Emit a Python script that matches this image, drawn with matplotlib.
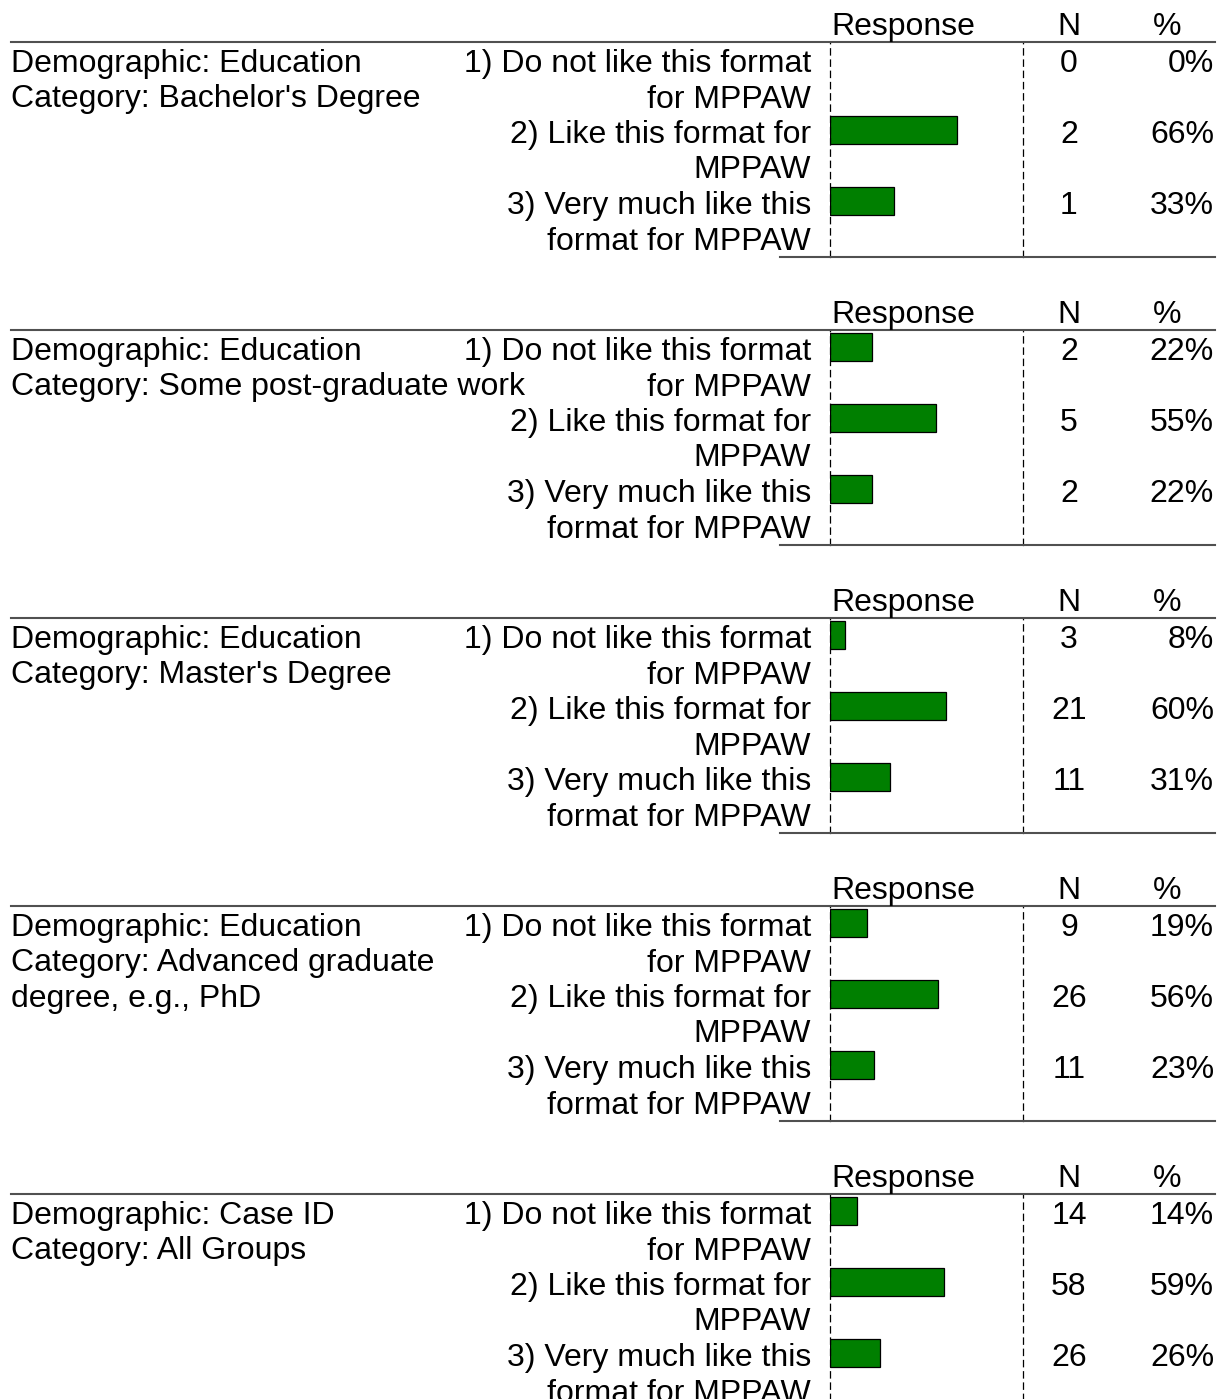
import matplotlib.pyplot as plt
from matplotlib.lines import Line2D

plt.rcParams['font.family'] = ['Liberation Sans', 'DejaVu Sans']

W, H = 1226, 1399

groups = [
    ("Demographic: Education", "Category: Bachelor's Degree"),
    ("Demographic: Education", "Category: Some post-graduate work"),
    ("Demographic: Education", "Category: Master's Degree"),
    ("Demographic: Education", "Category: Advanced graduate", "degree, e.g., PhD"),
    ("Demographic: Case ID", "Category: All Groups"),
]
responses = [
    ("1) Do not like this format", "for MPPAW"),
    ("2) Like this format for", "MPPAW"),
    ("3) Very much like this", "format for MPPAW"),
]
counts = [[0, 2, 1], [2, 5, 2], [3, 21, 11], [9, 26, 11], [14, 58, 26]]
percents = [[0, 66, 33], [22, 55, 22], [8, 60, 31], [19, 56, 23], [14, 59, 26]]

FS = 23
LINE = 35.5      # px between text lines
ROW = 71.0       # px between response rows
PANEL = 288.0    # px between panels
TOP0 = 42.0
BAR_L, BAR_R = 830, 1023
BOX_H = 215.0


def fx(x):
    return x / W


def fy(y):
    return 1 - y / H


fig = plt.figure(figsize=(W / 100, H / 100), dpi=100)

for i, (grp, n, pct) in enumerate(zip(groups, counts, percents)):
    top = TOP0 + PANEL * i

    # column headers
    fig.text(fx(831), fy(top - 7), "Response", fontsize=FS, ha='left', va='baseline')
    fig.text(fx(1069), fy(top - 7), "N", fontsize=FS, ha='center', va='baseline')
    fig.text(fx(1167), fy(top - 7), "%", fontsize=FS, ha='center', va='baseline')

    # rules above and below the block
    fig.add_artist(Line2D([fx(11), fx(1215)], [fy(top), fy(top)],
                          color='#505050', lw=1.5))
    fig.add_artist(Line2D([fx(780), fx(1215)], [fy(top + BOX_H), fy(top + BOX_H)],
                          color='#505050', lw=1.5))

    # group description
    for j, line in enumerate(grp):
        fig.text(fx(11), fy(top + 30 + LINE * j), line, fontsize=FS,
                 ha='left', va='baseline')

    # bar area
    ax = fig.add_axes([fx(BAR_L), fy(top + BOX_H), fx(BAR_R - BAR_L), BOX_H / H])
    y0 = -17.0 / ROW
    ax.set_ylim(y0 + BOX_H / ROW, y0)
    ax.set_xlim(0, 100)
    rows = list(range(len(responses)))
    ax.barh(rows, pct, height=0.4, left=0, color='#007f00',
            edgecolor='black', linewidth=[0 if p == 0 else 0.9 for p in pct])
    ax.set_xticks([])
    ax.set_yticks([])
    for side in ('top', 'bottom'):
        ax.spines[side].set_visible(False)
    for side in ('left', 'right'):
        ax.spines[side].set_linestyle((0, (5, 4)))
        ax.spines[side].set_linewidth(0.9)
    ax.patch.set_alpha(0)

    for k, (resp, cnt, p) in enumerate(zip(responses, n, pct)):
        base = top + 30 + ROW * k
        fig.text(fx(811), fy(base), resp[0], fontsize=FS, ha='right', va='baseline')
        fig.text(fx(811), fy(base + LINE), resp[1], fontsize=FS, ha='right', va='baseline')
        fig.text(fx(1069), fy(base), str(cnt), fontsize=FS, ha='center', va='baseline')
        fig.text(fx(1214), fy(base), f"{p}%", fontsize=FS, ha='right', va='baseline')

fig.savefig("out.png", dpi=100)
